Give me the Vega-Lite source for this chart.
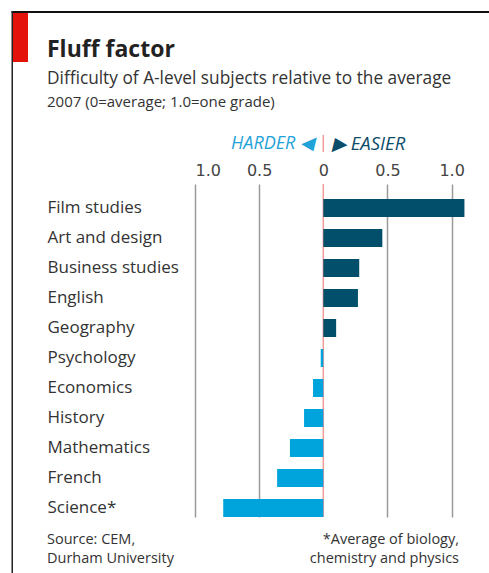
{
  "$schema": "https://vega.github.io/schema/vega-lite/v6.json",
  "width": 272,
  "height": 333,
  "autosize": {"type": "none"},
  "padding": {"left": 195, "top": 184, "right": 22, "bottom": 56},
  "background": "white",
  "config": {"view": {"stroke": null}, "font": "Open Sans"},
  "data": {
    "values": [
      {"subject": "Film studies", "value": 1.10},
      {"subject": "Art and design", "value": 0.46},
      {"subject": "Business studies", "value": 0.28},
      {"subject": "English", "value": 0.27},
      {"subject": "Geography", "value": 0.10},
      {"subject": "Psychology", "value": -0.02},
      {"subject": "Economics", "value": -0.08},
      {"subject": "History", "value": -0.15},
      {"subject": "Mathematics", "value": -0.26},
      {"subject": "French", "value": -0.36},
      {"subject": "Science*", "value": -0.78}
    ]
  },
  "layer": [
    {
      "data": {"values": [{}]},
      "mark": {"type": "rule", "color": "#f29a9a", "strokeWidth": 1.5},
      "encoding": {"x": {"datum": 0, "type": "quantitative"}}
    },
    {
      "data": {"values": [{}]},
      "mark": {"type": "rule", "color": "#f29a9a", "strokeWidth": 1.5, "y": -49, "y2": -32},
      "encoding": {"x": {"datum": 0, "type": "quantitative"}}
    },
    {
      "mark": {"type": "bar"},
      "encoding": {
        "y": {
          "field": "subject",
          "type": "nominal",
          "sort": null,
          "scale": {"paddingInner": 0.4, "paddingOuter": 0.25, "align": 1},
          "axis": {
            "title": null,
            "ticks": false,
            "domain": false,
            "labelAlign": "left",
            "labelPadding": 148,
            "labelFontSize": 17,
            "labelFont": "Open Sans",
            "labelColor": "#333"
          }
        },
        "x": {
          "field": "value",
          "type": "quantitative",
          "scale": {"domain": [-1, 1.12], "nice": false, "zero": false},
          "axis": {
            "orient": "top",
            "title": null,
            "values": [-1, -0.5, 0, 0.5, 1],
            "labelExpr": "datum.value == 0 ? '0' : format(abs(datum.value), '.1f')",
            "ticks": false,
            "domain": false,
            "grid": true,
            "gridColor": {"condition": {"test": "datum.value == 0", "value": "transparent"}, "value": "#9a9a9a"},
            "gridWidth": 1.5,
            "labelFont": "DejaVu Sans",
            "labelFontSize": 16,
            "labelColor": "#444",
            "labelPadding": 6
          }
        },
        "color": {
          "condition": {"test": "datum.value > 0", "value": "#024f6c"},
          "value": "#00a4dc"
        }
      }
    },
    {
      "data": {"values": [{}]},
      "mark": {"type": "rect", "x": -183.5, "x2": 294, "y": -173, "y2": -171, "color": "#111"}
    },
    {
      "data": {"values": [{}]},
      "mark": {"type": "rect", "x": -183.5, "x2": -182, "y": -173, "y2": 389, "color": "#222"}
    },
    {
      "data": {"values": [{}]},
      "mark": {"type": "rect", "x": -182, "x2": -167, "y": -171, "y2": -122, "color": "#e3120b"}
    },
    {
      "data": {"values": [{}]},
      "mark": {"type": "text", "text": "Fluff factor", "x": -148, "y": -127, "align": "left", "baseline": "alphabetic", "fontSize": 23, "fontWeight": "bold", "font": "Open Sans", "color": "#222"}
    },
    {
      "data": {"values": [{}]},
      "mark": {"type": "text", "text": "Difficulty of A-level subjects relative to the average", "x": -148, "y": -100, "align": "left", "baseline": "alphabetic", "fontSize": 17.3, "font": "Open Sans", "color": "#333"}
    },
    {
      "data": {"values": [{}]},
      "mark": {"type": "text", "text": "2007 (0=average; 1.0=one grade)", "x": -148, "y": -77, "align": "left", "baseline": "alphabetic", "fontSize": 15, "font": "Open Sans", "color": "#333"}
    },
    {
      "data": {"values": [{}]},
      "mark": {"type": "text", "text": "HARDER ◀", "x": 119, "y": -40, "align": "right", "baseline": "middle", "fontSize": 18, "fontStyle": "italic", "font": "Open Sans", "color": "#1fa3d8"}
    },
    {
      "data": {"values": [{}]},
      "mark": {"type": "text", "text": "▶ EASIER", "x": 137, "y": -40, "align": "left", "baseline": "middle", "fontSize": 18.5, "fontStyle": "italic", "font": "Open Sans", "color": "#0c4d6a"}
    },
    {
      "data": {"values": [{}]},
      "mark": {"type": "text", "text": ["Source: CEM,", "Durham University"], "x": -148, "y": 360, "align": "left", "baseline": "alphabetic", "lineHeight": 18.5, "fontSize": 14.5, "font": "Open Sans", "color": "#333"}
    },
    {
      "data": {"values": [{}]},
      "mark": {"type": "text", "text": ["*Average of biology,", "chemistry and physics"], "x": 264, "y": 360, "align": "right", "baseline": "alphabetic", "lineHeight": 18.5, "fontSize": 14.5, "font": "Open Sans", "color": "#333"}
    }
  ]
}
